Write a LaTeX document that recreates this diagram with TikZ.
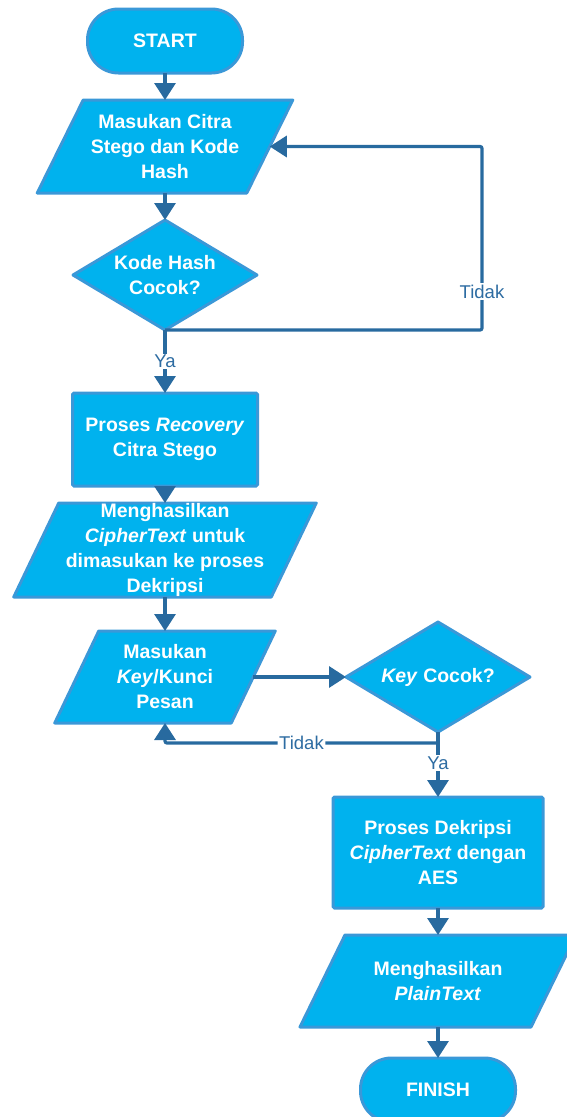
\documentclass[tikz,border=0pt]{standalone}
\usepackage{fontspec}
\setmainfont{Liberation Sans}
\usetikzlibrary{shapes.geometric, arrows.meta, backgrounds}
\definecolor{boxfill}{HTML}{00B2EE}
\definecolor{boxline}{HTML}{3A98D8}
\definecolor{flowline}{HTML}{286A9F}
\definecolor{labelc}{HTML}{2D6CA2}
\begin{document}
\begin{tikzpicture}[x=1pt, y=-1pt,
  base/.style={text=white, font=\fontsize{19.5}{25}\selectfont\bfseries, align=center, inner sep=0pt, outer sep=0pt},
  term/.style={base, draw=boxline, fill=boxfill, line width=3pt, rounded corners=31pt, minimum width=155pt, minimum height=64pt},
  proc/.style={base, draw=boxline, fill=boxfill, line width=3pt, rounded corners=1.5pt},
  decide/.style={base, diamond, aspect=1.67, draw=boxline, fill=boxfill, line width=3pt, line join=round, minimum width=184pt, minimum height=110pt},
  io/.style={base},
  iobox/.style={draw=boxline, fill=boxfill, line width=3pt, line join=round},
  conn/.style={draw=flowline, line width=3.2pt, -{Triangle[length=17pt,width=21pt]}},
  lbl/.style={fill=white, text=labelc, font=\fontsize{18.5}{20}\selectfont, inner sep=1.5pt}
]
\useasboundingbox (0,0) rectangle (566,1117);

% nodes
\node[term] (start) at (165,41) {START};
\node[io, minimum width=209.5pt, minimum height=93pt] (in1) at (165,146.5) {Masukan Citra\\Stego dan Kode\\Hash};
\node[decide] (chk1) at (165,275) {Kode Hash\\Cocok?};
\node[proc, minimum width=185pt, minimum height=93pt] (rec) at (165,439.5) {Proses \textit{Recovery}\\Citra Stego};
\node[io, minimum width=257.5pt, minimum height=94pt] (cipher) at (165,550) {Menghasilkan\\\textit{CipherText} untuk\\dimasukan ke proses\\Dekripsi};
\node[io, minimum width=176.5pt, minimum height=92pt] (key) at (165,677) {Masukan\\\textit{Key}/Kunci\\Pesan};
\node[decide] (chk2) at (438,677) {\textit{Key} Cocok?};
\node[proc, minimum width=210pt, minimum height=111pt] (aes) at (438,852.5) {Proses Dekripsi\\\textit{CipherText} dengan\\AES};
\node[io, minimum width=231pt, minimum height=92pt] (plain) at (438,981) {Menghasilkan\\\textit{PlainText}};
\node[term] (finish) at (438,1090) {FINISH};

% parallelogram outlines behind the input/output texts
\begin{scope}[on background layer]
  \foreach \n/\h in {in1/23, cipher/22.5, key/22, plain/22.5} {
    \path[iobox] ([xshift=-\h pt]\n.south west) -- ([xshift=\h pt]\n.north west)
      -- ([xshift=\h pt]\n.north east) -- ([xshift=-\h pt]\n.south east) -- cycle;
  }
\end{scope}

% main flow
\draw[conn] (start.south) -- (in1.north);
\draw[conn] (in1.south) -- (chk1.north);
\draw[conn] (chk1.south) -- node[lbl]{Ya} (rec.north);
\draw[conn] (rec.south) -- (cipher.north);
\draw[conn] (cipher.south) -- (key.north);
\draw[conn] (key.east) -- (chk2.west);
\draw[conn] (chk2.south) -- node[lbl, pos=0.48]{Ya} (aes.north);
\draw[conn] (aes.south) -- (plain.north);
\draw[conn] (plain.south) -- (finish.north);

% retry loops
\coordinate (loopA) at (482,330);
\draw[conn, rounded corners=2pt] (chk1.south) -- (loopA) -- node[lbl, pos=0.21]{Tidak} (loopA |- in1.east) -- (in1.east);
\coordinate (loopB) at (438,743);
\draw[conn, rounded corners=2pt] (chk2.south) -- (loopB) -- node[lbl]{Tidak} (loopB -| key.south) -- (key.south);
\end{tikzpicture}
\end{document}
